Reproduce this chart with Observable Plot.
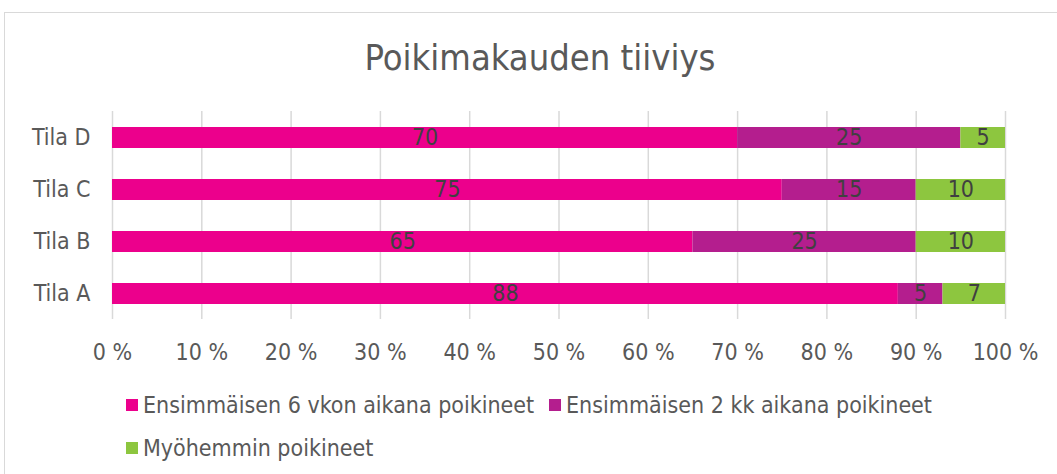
<!DOCTYPE html>
<html>
<head>
<meta charset="utf-8">
<script src="https://cdn.jsdelivr.net/npm/d3@7"></script>
<script src="https://cdn.jsdelivr.net/npm/@observablehq/plot@0.6"></script>
<style>
  html, body { margin: 0; padding: 0; background: #fff; width: 1057px; height: 474px; overflow: hidden; }
  body { font-family: "DejaVu Sans Condensed", "DejaVu Sans", sans-serif; color: #595959; position: relative; }
  #frame { position: absolute; left: 4px; top: 12px; width: 1100px; height: 520px; border: 1px solid #d9d9d9; box-sizing: border-box; }
  #title { position: absolute; left: 0; width: 1080px; top: 36px; text-align: center; font-size: 36px; line-height: 44px; color: #595959; }
  #chart { position: absolute; left: 0; top: 100px; }
  .leg { position: absolute; font-size: 23px; line-height: 26px; color: #595959; white-space: nowrap; display: flex; align-items: center; }
  .sw { display: inline-block; width: 12px; height: 12px; margin-right: 5px; }
</style>
</head>
<body>
<div id="frame"></div>
<div id="title">Poikimakauden tiiviys</div>
<div id="chart"></div>
<div id="legend"></div>
<script>
const farms = ["Tila D", "Tila C", "Tila B", "Tila A"];
const seriesNames = ["Ensimmäisen 6 vkon aikana poikineet", "Ensimmäisen 2 kk aikana poikineet", "Myöhemmin poikineet"];
const seriesColors = ["#ec008c", "#b41e8e", "#8dc63f"];
const first6wk = [70, 75, 65, 88];
const first2m = [25, 15, 25, 5];
const later = [5, 10, 10, 7];
const xTicks = [0, 10, 20, 30, 40, 50, 60, 70, 80, 90, 100];

const seriesValues = [first6wk, first2m, later];
const data = [];
seriesNames.forEach((s, si) => {
  farms.forEach((f, fi) => data.push({farm: f, series: s, value: seriesValues[si][fi]}));
});

const chart = Plot.plot({
  width: 1057,
  height: 280,
  marginLeft: 112,
  marginRight: 52,
  marginTop: 11,
  marginBottom: 61,
  style: {fontFamily: "'DejaVu Sans Condensed', 'DejaVu Sans', sans-serif", fontSize: "23px", color: "#595959", background: "transparent"},
  x: {domain: [0, 100], label: null},
  y: {domain: farms, padding: 0.6, paddingOuter: 0.3, label: null},
  color: {domain: seriesNames, range: seriesColors},
  marks: [
    Plot.ruleX(xTicks, {stroke: "#d9d9d9", strokeWidth: 1.5}),
    Plot.barX(data, Plot.stackX({x: "value", y: "farm", z: "series", fill: "series", order: null})),
    Plot.text(data, Plot.stackX({x: "value", y: "farm", z: "series", text: d => String(d.value), order: null, fill: "#404040", fontSize: 23})),
    Plot.axisX({ticks: xTicks, tickFormat: d => d + " %", tickSize: 0, tickPadding: 24, fontSize: 23, label: null}),
    Plot.axisY({tickSize: 0, tickPadding: 22, fontSize: 23, label: null})
  ]
});
document.getElementById("chart").appendChild(chart);

const legend = document.getElementById("legend");
const legPos = [[126, 392], [549, 392], [126, 435]];
seriesNames.forEach((s, i) => {
  const el = document.createElement("div");
  el.className = "leg";
  el.style.left = legPos[i][0] + "px";
  el.style.top = legPos[i][1] + "px";
  el.innerHTML = `<span class="sw" style="background:${seriesColors[i]}"></span>${s}`;
  legend.appendChild(el);
});
</script>
</body>
</html>
